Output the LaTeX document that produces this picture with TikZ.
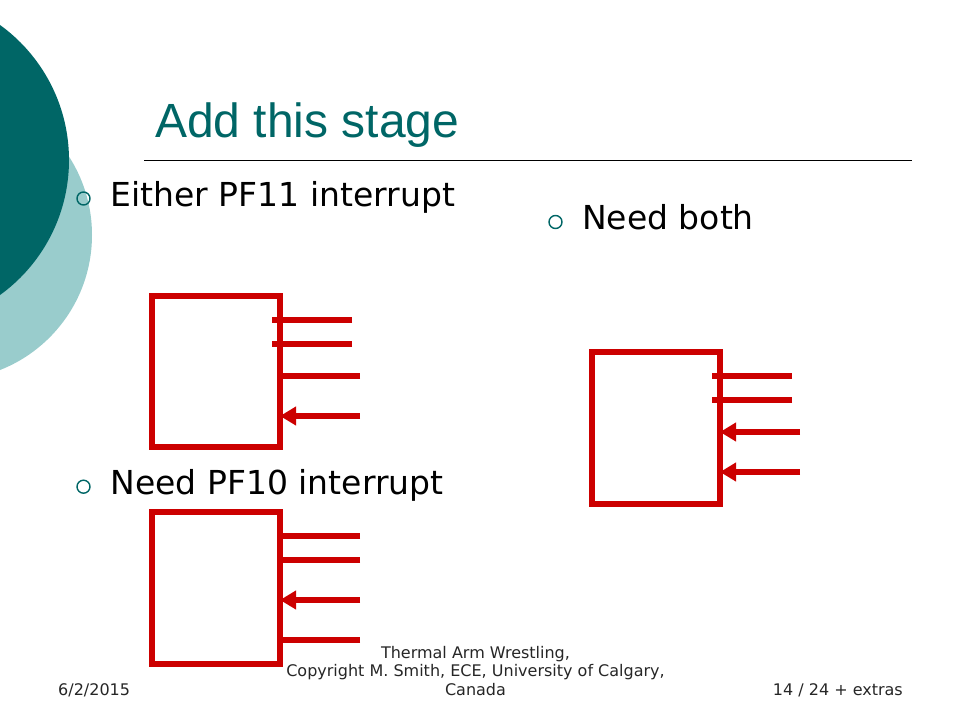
\documentclass[tikz,border=0pt]{standalone}
\usepackage{fontspec}
\setmainfont{DejaVu Sans}
\newfontfamily\titlefont{Liberation Sans}
\usetikzlibrary{arrows.meta}
\definecolor{tealdark}{RGB}{0,102,102}
\definecolor{teallight}{RGB}{153,204,204}
\definecolor{boxred}{RGB}{204,0,0}
\begin{document}
\begin{tikzpicture}[x=1pt,y=-1pt,
  stagebox/.style={draw=boxred, line width=6pt, rectangle, inner sep=0pt,
                   minimum width=128pt, minimum height=152pt},
  wire/.style={draw=boxred, line width=6pt},
  inarrow/.style={wire, -{Triangle[length=16pt,width=18pt]}, shorten >=-3pt},
  bullettext/.style={anchor=base west, inner sep=0pt, font=\fontsize{33}{40}\selectfont},
  bulletmark/.style={draw=tealdark, line width=1.4pt, circle, inner sep=0pt, minimum size=13pt},
  foot/.style={inner sep=0pt, font=\fontsize{16}{19}\selectfont, text=black!85}
]
\useasboundingbox (0,0) rectangle (960,720);
% decorative circles
\fill[teallight] (-53,235) circle (145);
\fill[tealdark] (-97.6,160) circle (166.6);
% title
\node[anchor=base west, inner sep=0pt, text=tealdark, font=\titlefont\fontsize{48}{56}\selectfont] (title) at (155,137) {Add this stage};
\coordinate (ruleL) at (144,160);
\coordinate (ruleR) at (912,160);
\draw[line width=1pt] (ruleL) -- (ruleR);
% bullets
\node[bulletmark] (m1) at (83.5,198.5) {};
\node[bullettext] (t1) at (110.5,206) {Either PF11 interrupt};
\node[bulletmark] (m2) at (555.5,222) {};
\node[bullettext] (t2) at (582,229.5) {Need both};
\node[bulletmark] (m3) at (83.5,486.7) {};
\node[bullettext] (t3) at (110.5,494.3) {Need PF10 interrupt};
% box 1
\node[stagebox] (b1) at (216,371.5) [minimum height=151pt] {};
\coordinate (a1) at (352,320); \coordinate (a1i) at (272,320);
\coordinate (a2) at (352,344); \coordinate (a2i) at (272,344);
\coordinate (a3) at (360,376);
\coordinate (a4) at (360,416);
\draw[wire] (a1) -- (a1i);
\draw[wire] (a2) -- (a2i);
\draw[wire] (a3) -- (a3 -| b1.east);
\draw[inarrow] (a4) -- (a4 -| b1.east);
% box 2
\node[stagebox] (b2) at (216,588) {};
\coordinate (c1) at (360,536);
\coordinate (c2) at (360,560);
\coordinate (c3) at (360,600);
\coordinate (c4) at (360,640);
\draw[wire] (c1) -- (c1 -| b2.east);
\draw[wire] (c2) -- (c2 -| b2.east);
\draw[inarrow] (c3) -- (c3 -| b2.east);
\draw[wire] (c4) -- (c4 -| b2.east);
% box 3
\node[stagebox] (b3) at (656,428) {};
\coordinate (d1) at (792,376); \coordinate (d1i) at (712,376);
\coordinate (d2) at (792,400); \coordinate (d2i) at (712,400);
\coordinate (d3) at (800,432);
\coordinate (d4) at (800,472);
\draw[wire] (d1) -- (d1i);
\draw[wire] (d2) -- (d2i);
\draw[inarrow] (d3) -- (d3 -| b3.east);
\draw[inarrow] (d4) -- (d4 -| b3.east);
% footer
\node[foot, anchor=base west] (date) at (58,695.7) {6/2/2015};
\node[foot, anchor=base] (f1) at (475.5,658) {Thermal Arm Wrestling,};
\node[foot, anchor=base] (f2) at (475.5,676.8) {Copyright M. Smith, ECE, University of Calgary,};
\node[foot, anchor=base] (f3) at (475.5,695.7) {Canada};
\node[foot, anchor=base east] (page) at (903,695.7) {14 / 24 + extras};
\end{tikzpicture}
\end{document}
